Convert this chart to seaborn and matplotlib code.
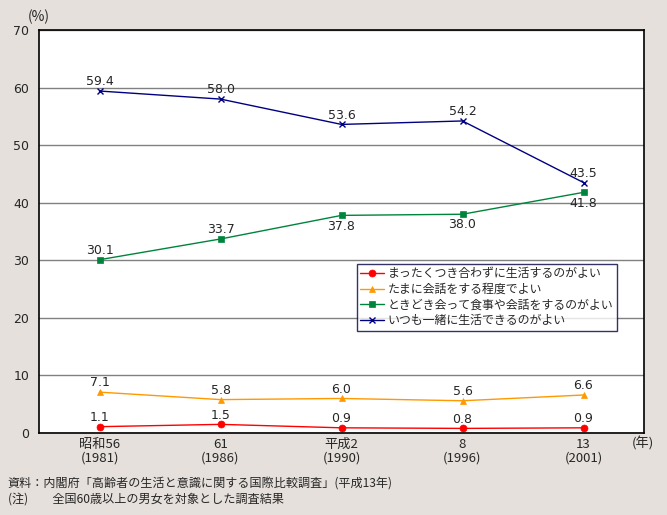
import numpy as np
import pandas as pd
import matplotlib
matplotlib.use('Agg')
import matplotlib.pyplot as plt
import seaborn as sns

years = ['昭和56\n(1981)', '61\n(1986)', '平成2\n(1990)', '8\n(1996)', '13\n(2001)']
never = [1.1, 1.5, 0.9, 0.8, 0.9]
sometimes_talk = [7.1, 5.8, 6.0, 5.6, 6.6]
meet_eat = [30.1, 33.7, 37.8, 38.0, 41.8]
always = [59.4, 58.0, 53.6, 54.2, 43.5]
series_names = ['まったくつき合わずに生活するのがよい', 'たまに会話をする程度でよい',
                'ときどき会って食事や会話をするのがよい', 'いつも一緒に生活できるのがよい']

sns.set_style('white')
plt.rcParams['font.family'] = ['Noto Sans CJK JP', 'DejaVu Sans']

bg = '#E5E0DB'
fig = plt.figure(figsize=(6.67, 5.15), dpi=100, facecolor=bg)
ax = fig.add_axes([39/667, 1-433/515, 605/667, 403/515])
ax.set_facecolor('white')

colors = ['#FF0000', '#FF9900', '#00843C', '#000080']
markers = ['o', '^', 's', 'x']
values = [never, sometimes_talk, meet_eat, always]
x = np.arange(len(years))
for name, vals, c, m in zip(series_names, values, colors, markers):
    df = pd.DataFrame({'x': x, 'y': vals})
    sns.lineplot(data=df, x='x', y='y', ax=ax, color=c, marker=m, markersize=5,
                 markeredgecolor=c, markeredgewidth=1 if m == 'x' else 0.5,
                 linewidth=1, label=name)

# value labels (green series: last three below the point)
below = {2: [2, 3, 4]}
for si, vals in enumerate(values):
    for i, v in enumerate(vals):
        if i in below.get(si, []):
            ax.annotate(f'{v:.1f}', (i, v), xytext=(0, -3), textcoords='offset points',
                        ha='center', va='top', fontsize=9, family='DejaVu Sans')
        else:
            ax.annotate(f'{v:.1f}', (i, v), xytext=(0, 2), textcoords='offset points',
                        ha='center', va='bottom', fontsize=9, family='DejaVu Sans')

ax.set_xlim(-0.5, 4.5)
ax.set_ylim(0, 70)
ax.set_yticks(range(0, 71, 10))
ax.yaxis.grid(True, color='#808080', linewidth=1)
ax.set_axisbelow(True)
ax.tick_params(axis='y', length=0, labelsize=9, pad=7)
for lab in ax.get_yticklabels():
    lab.set_family('DejaVu Sans')
ax.set_xticks(np.arange(0.5, 4.5, 1))
ax.set_xticklabels([])
ax.tick_params(axis='x', direction='in', length=3, color='black', width=1)
for i, lab in enumerate(years):
    ax.text(i, -0.9, lab, ha='center', va='top', fontsize=9.5, linespacing=1.05,
            transform=ax.transData)
for s in ax.spines.values():
    s.set_color('black')
    s.set_linewidth(1.2)
ax.set_xlabel('')
ax.set_ylabel('')

leg = ax.legend(loc='upper left', bbox_to_anchor=(0.525, 0.42), fontsize=8.6,
                frameon=True, fancybox=False, edgecolor='#000040', borderpad=0.3,
                labelspacing=0.22, handlelength=2, handletextpad=0.3, borderaxespad=0)
leg.get_frame().set_linewidth(1)

fig.text(28/667, 1-17/515, '(%)', fontsize=10, va='center', ha='left')
fig.text(632/667, 1-444/515, '(年)', fontsize=9.5, va='center', ha='left')
fig.text(8/667, 1-483/515, '資料：内閣府「高齢者の生活と意識に関する国際比較調査」(平成13年)',
         fontsize=8.7, va='center', ha='left')
fig.text(8/667, 1-499/515, '(注)　　全国60歳以上の男女を対象とした調査結果',
         fontsize=8.7, va='center', ha='left')

fig.savefig('out.png', dpi=100, facecolor=bg)
